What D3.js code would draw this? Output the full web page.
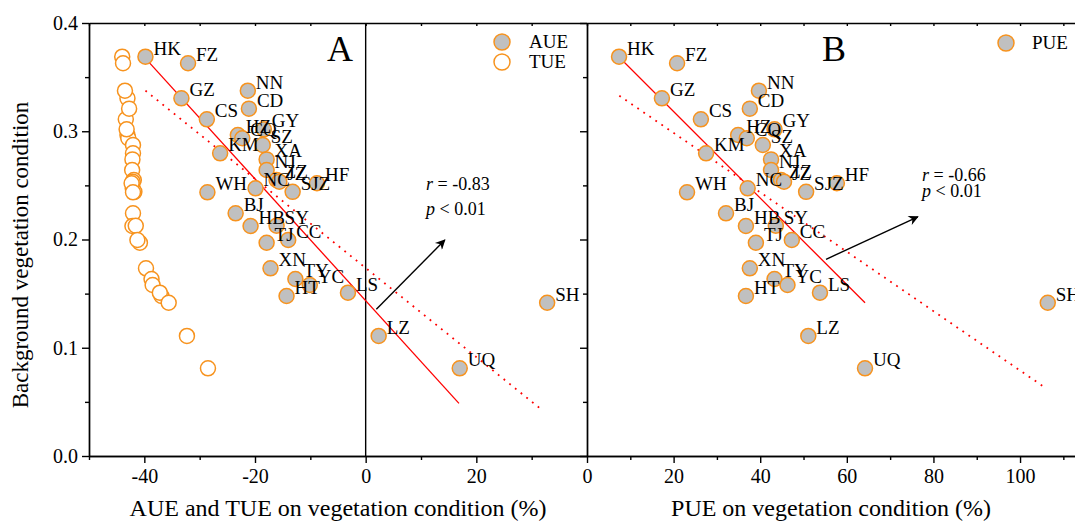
<!DOCTYPE html>
<html>
<head>
<meta charset="utf-8">
<script src="https://cdn.jsdelivr.net/npm/d3@7"></script>
<style>
body{margin:0;background:#fff;}
text{font-family:"Liberation Serif","Times New Roman",serif;fill:#000;}
</style>
</head>
<body>
<script>
// cities and their values
var cities = ['HK','FZ','GZ','CS','NN','CD','HZ','CQ','GY','SZ','KM','XA','NJ','ZZ','JZ','NC','SJZ','HF','WH','BJ','HB','SY','TJ','CC','XN','TY','YC','HT','LS','LZ','UQ','SH'];
var bvc = [0.3689,0.3628,0.3304,0.311,0.3375,0.3209,0.2965,0.2935,0.3018,0.2873,0.2796,0.274,0.2642,0.255,0.2534,0.2473,0.244,0.252,0.2436,0.2242,0.2125,0.2127,0.197,0.1995,0.1734,0.1635,0.158,0.1478,0.1509,0.1109,0.081,0.1416];
var aue = [-39.8,-32.1,-33.3,-28.7,-21.3,-21.1,-23.1,-22.3,-18.4,-18.6,-26.3,-17.9,-17.9,-16.1,-15.6,-19.9,-13.2,-8.8,-28.6,-23.5,-20.8,-16.1,-17.9,-14.0,-17.2,-12.7,-10.1,-14.3,-3.2,2.35,17.0,32.8];
var tue = [-44.0,-43.85,-43.05,-43.35,-43.5,-42.75,-43.05,-42.9,-43.2,-42.05,-42.05,-42.15,-42.2,-41.9,-42.1,-42.1,-41.8,-42.3,-42.05,-42.05,-42.15,-41.55,-40.8,-41.25,-39.7,-38.7,-38.5,-36.9,-37.2,-32.3,-28.5,-35.6];
var pue = [7.4,20.8,17.3,26.3,39.7,37.6,34.9,36.9,43.3,40.6,27.5,42.5,42.5,44.8,45.5,37.1,50.6,57.7,23.1,32.1,36.7,43.6,39.0,47.3,37.6,43.3,46.3,36.7,53.8,51.1,64.2,106.4];

// fitted lines: [slope, intercept, from, to]
var fitA = [-0.005625, 0.1435, -39.8, 16.86];
var fitAdot = [-0.004116, 0.1737, -39.8, 31.73];
var fitB = [-0.003996, 0.3981, 7.39, 64.2];
var fitBdot = [-0.002743, 0.3533, 7.46, 105.2];

// arrows: [x1, y1, x2, y2] in data units
var arrowA = [1.93, 0.1355, 14.3, 0.1995];
var arrowB = [55.2, 0.1817, 76.4, 0.221];

var ticksY = [0, 0.1, 0.2, 0.3, 0.4];
var minorY = [0.05, 0.15, 0.25, 0.35];
var ticksA = [-40, -20, 0, 20];
var minorA = [-50, -30, -10, 10, 30];
var ticksB = [0, 20, 40, 60, 80, 100];
var minorB = [10, 30, 50, 70, 90, 110];

var orange = "#F7931E", grey = "#C0C0C0";

var svg = d3.select("body").append("svg").attr("width",1075).attr("height",522);

var y = d3.scaleLinear().domain([0,0.4]).range([456,23]);
var xA = d3.scaleLinear().domain([-50,40]).range([89,587]);
var xB = d3.scaleLinear().domain([0,115]).range([587,1085]);

svg.append("defs").append("marker")
    .attr("id","arrow")
    .attr("viewBox","0 0 10 10")
    .attr("refX",9).attr("refY",5)
    .attr("markerWidth",14).attr("markerHeight",10)
    .attr("markerUnits","userSpaceOnUse")
    .attr("orient","auto")
    .append("path").attr("d","M0,0L10,5L0,10L3,5Z").attr("fill","#000");

function styleAxis(g){
    g.attr("font-family","Liberation Serif, Times New Roman, serif").attr("font-size",20);
    g.selectAll("path,line").attr("stroke","#000").attr("stroke-width",1.4);
}

function frame(x, majors, minors, labelsY){
    // bottom
    svg.append("g").attr("transform","translate(0,456)")
        .call(d3.axisBottom(x).tickValues(minors).tickSize(4).tickSizeOuter(0).tickFormat(""))
        .call(styleAxis);
    svg.append("g").attr("transform","translate(0,456)")
        .call(d3.axisBottom(x).tickValues(majors).tickSize(7).tickSizeOuter(0).tickPadding(6).tickFormat(function(d){return String(d);}))
        .call(styleAxis);
    // top border with inner ticks
    svg.append("g").attr("transform","translate(0,23)")
        .call(d3.axisBottom(x).tickValues(majors.concat(minors)).tickSize(3).tickSizeOuter(0).tickFormat(""))
        .call(styleAxis);
    // left
    var left = x.range()[0];
    svg.append("g").attr("transform","translate("+left+",0)")
        .call(d3.axisLeft(y).tickValues(minorY).tickSize(4).tickSizeOuter(0).tickFormat(""))
        .call(styleAxis);
    svg.append("g").attr("transform","translate("+left+",0)")
        .call(d3.axisLeft(y).tickValues(ticksY).tickSize(7).tickSizeOuter(0).tickPadding(4)
            .tickFormat(labelsY ? d3.format(".1f") : ""))
        .call(styleAxis);
}

frame(xA, ticksA, minorA, true);
frame(xB, ticksB, minorB, false);

// zero line in panel A
svg.append("line")
    .attr("x1",xA(0)).attr("x2",xA(0))
    .attr("y1",y(0)).attr("y2",y(0.4))
    .attr("stroke","#000").attr("stroke-width",1.4);

function fitLine(x, f, dotted){
    svg.append("line")
        .attr("x1",x(f[2])).attr("y1",y(f[0]*f[2]+f[1]))
        .attr("x2",x(f[3])).attr("y2",y(f[0]*f[3]+f[1]))
        .attr("stroke","#FF0000")
        .attr("stroke-width",dotted ? 1.8 : 1.3)
        .attr("stroke-dasharray",dotted ? "1.8,5.5" : null);
}

function arrow(x, a){
    svg.append("line")
        .attr("x1",x(a[0])).attr("y1",y(a[1]))
        .attr("x2",x(a[2])).attr("y2",y(a[3]))
        .attr("stroke","#000").attr("stroke-width",1.4)
        .attr("marker-end","url(#arrow)");
}

// TUE hollow points
svg.selectAll("circle.tue")
    .data(tue)
    .enter().append("circle")
        .attr("class","tue")
        .attr("cx",function(d){return xA(d);})
        .attr("cy",function(d,i){return y(bvc[i]);})
        .attr("r",7.5)
        .attr("fill","#fff")
        .attr("stroke",orange).attr("stroke-width",1.5);

fitLine(xA, fitA, false);
fitLine(xA, fitAdot, true);
fitLine(xB, fitB, false);
fitLine(xB, fitBdot, true);

function points(x, vals, cls){
    svg.selectAll("circle."+cls)
        .data(vals)
        .enter().append("circle")
            .attr("class",cls)
            .attr("cx",function(d){return x(d);})
            .attr("cy",function(d,i){return y(bvc[i]);})
            .attr("r",7.5)
            .attr("fill",grey)
            .attr("stroke",orange).attr("stroke-width",1.5);
    svg.selectAll("text."+cls)
        .data(vals)
        .enter().append("text")
            .attr("class",cls)
            .attr("x",function(d){return x(d)+8;})
            .attr("y",function(d,i){return y(bvc[i])-2;})
            .attr("font-size",19)
            .text(function(d,i){return cities[i];});
}

points(xA, aue, "aue");
points(xB, pue, "pue");

arrow(xA, arrowA);
arrow(xB, arrowB);

// r and p annotations
function stat(x0, y0, gap, r){
    var t1 = svg.append("text").attr("x",x0).attr("y",y0).attr("font-size",18);
    t1.append("tspan").attr("font-style","italic").text("r");
    t1.append("tspan").text(" = " + r);
    var t2 = svg.append("text").attr("x",x0).attr("y",y0+gap).attr("font-size",18);
    t2.append("tspan").attr("font-style","italic").text("p");
    t2.append("tspan").text(" < 0.01");
}
stat(426, 190, 25, "-0.83");
stat(922, 181, 16, "-0.66");

// panel letters
svg.append("text").attr("x",327).attr("y",61).attr("font-size",36).text("A");
svg.append("text").attr("x",822).attr("y",61).attr("font-size",36).text("B");

// legends
var legA = [["AUE", grey], ["TUE", "#fff"]];
svg.selectAll("circle.legA")
    .data(legA)
    .enter().append("circle")
        .attr("class","legA")
        .attr("cx",502).attr("cy",function(d,i){return 42+i*20;})
        .attr("r",8)
        .attr("fill",function(d){return d[1];})
        .attr("stroke",orange).attr("stroke-width",1.5);
svg.selectAll("text.legA")
    .data(legA)
    .enter().append("text")
        .attr("class","legA")
        .attr("x",529).attr("y",function(d,i){return 48+i*20;})
        .attr("font-size",19)
        .text(function(d){return d[0];});

svg.append("circle").attr("cx",1006).attr("cy",43).attr("r",8)
    .attr("fill",grey).attr("stroke",orange).attr("stroke-width",1.5);
svg.append("text").attr("x",1032).attr("y",49).attr("font-size",19).text("PUE");

// axis titles
svg.append("text")
    .attr("transform","translate(28,255) rotate(-90)")
    .attr("text-anchor","middle")
    .attr("font-size",23)
    .text("Background vegetation condition");
svg.append("text")
    .attr("x",338).attr("y",516)
    .attr("text-anchor","middle")
    .attr("font-size",24)
    .text("AUE and TUE on vegetation condition (%)");
svg.append("text")
    .attr("x",831).attr("y",516)
    .attr("text-anchor","middle")
    .attr("font-size",24)
    .text("PUE on vegetation condition (%)");
</script>
</body>
</html>
